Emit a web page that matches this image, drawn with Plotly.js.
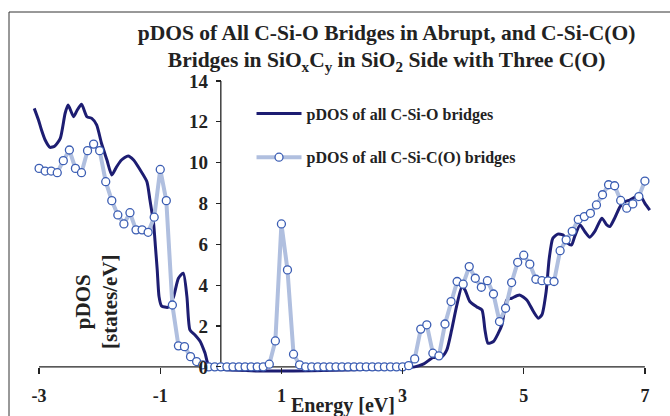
<!DOCTYPE html>
<html>
<head>
<meta charset="utf-8">
<script src="https://cdn.plot.ly/plotly-3.0.1.min.js"></script>
<style>html,body{margin:0;padding:0;background:#fff;}#chart{width:670px;height:416px;}</style>
</head>
<body>
<div id="chart"></div>
<script>
// C-Si-O bridges (dark smooth line)
const darkE = [-3.08,-3.01,-2.96,-2.90,-2.82,-2.74,-2.65,-2.57,-2.52,-2.43,-2.37,-2.30,-2.21,-2.13,-2.05,-1.97,-1.88,-1.80,-1.72,-1.64,-1.53,-1.44,-1.33,-1.22,-1.17,-1.11,-1.08,-1.05,-1.02,-0.98,-0.87,-0.78,-0.70,-0.62,-0.56,-0.51,-0.43,-0.34,-0.26,-0.18,3.20,3.35,3.50,3.65,3.73,3.81,3.89,3.98,4.03,4.11,4.22,4.31,4.36,4.41,4.50,4.58,4.64,4.72,4.80,4.93,5.05,5.16,5.24,5.30,5.37,5.42,5.48,5.56,5.65,5.73,5.79,5.84,5.93,6.01,6.09,6.17,6.29,6.37,6.42,6.50,6.59,6.67,6.75,6.86,6.95,7.00,7.08];
const darkV = [12.66,12.09,11.60,11.11,10.75,10.82,11.19,12.42,12.82,12.25,12.58,12.86,12.25,12.17,11.85,10.95,10.13,9.40,9.80,10.13,10.33,10.13,9.64,9.07,8.17,7.03,5.90,4.75,3.44,2.99,2.92,3.44,4.34,4.59,3.44,1.81,1.57,1.24,0.67,0.0,0.0,0.15,0.45,0.50,0.83,1.81,2.95,3.93,3.77,3.20,2.95,2.79,1.81,1.16,1.24,1.65,2.06,3.28,3.36,3.52,3.28,2.71,2.38,2.55,3.69,5.30,6.30,6.50,6.46,6.05,5.97,6.38,6.95,6.62,6.35,6.62,7.28,6.95,6.87,7.28,7.85,8.09,8.17,8.34,8.26,8.01,7.68];

// C-Si-C(O) bridges (light line with circle markers)
const lightE = [-3.0,-2.9,-2.8,-2.7,-2.6,-2.5,-2.4,-2.3,-2.2,-2.1,-2.0,-1.9,-1.8,-1.7,-1.6,-1.5,-1.4,-1.3,-1.2,-1.1,-1.0,-0.9,-0.8,-0.7,-0.6,-0.5,-0.4,-0.3,-0.2,-0.1,0.0,0.1,0.2,0.3,0.4,0.5,0.6,0.7,0.8,0.9,1.0,1.1,1.2,1.3,1.4,1.5,1.6,1.7,1.8,1.9,2.0,2.1,2.2,2.3,2.4,2.5,2.6,2.7,2.8,2.9,3.0,3.1,3.2,3.3,3.4,3.5,3.6,3.7,3.8,3.9,4.0,4.1,4.2,4.3,4.4,4.5,4.6,4.7,4.8,4.9,5.0,5.1,5.2,5.3,5.4,5.5,5.6,5.7,5.8,5.9,6.0,6.1,6.2,6.3,6.4,6.5,6.6,6.7,6.8,6.9,7.0];
const lightV = [9.72,9.59,9.59,9.51,10.10,10.62,9.72,9.51,10.59,10.91,10.59,9.07,8.14,7.44,7.00,7.55,6.71,6.71,6.59,7.33,9.67,8.14,3.03,1.03,0.99,0.50,0.26,0.10,0,0,0,0,0,0,0,0,0,0,0.13,1.27,7.00,4.75,0.62,0.10,0,0,0,0,0,0,0,0,0,0,0,0,0,0,0,0,0,0.06,0.39,1.85,2.06,0.67,0.54,2.10,3.20,4.18,4.05,4.91,4.34,3.90,4.22,3.57,2.22,2.87,4.13,5.12,5.47,5.03,4.29,4.22,4.21,4.18,5.69,6.22,6.64,7.22,7.36,7.52,7.93,8.43,8.92,8.87,8.15,7.77,7.98,8.34,9.10];

const xTicks = [-3,-1,1,3,5,7];
const yTicks = [0,2,4,6,8,10,12,14];
const seriesNames = ['pDOS of all C-Si-O bridges','pDOS of all C-Si-C(O) bridges'];
const titleText = 'pDOS of All C-Si-O Bridges in Abrupt, and C-Si-C(O)<br>Bridges in SiO<sub>x</sub>C<sub>y</sub> in SiO<sub>2</sub> Side with Three C(O)';

const FONT = '"Liberation Serif", "Times New Roman", serif';
const xr = [-3.15, 7.15], yr = [-0.3, 14];
const yAxisAt = 0;

const traces = [
  {x: darkE, y: darkV, name: seriesNames[0], type: 'scatter', mode: 'lines',
   line: {color: '#1d1d72', width: 3, shape: 'spline', smoothing: 0.6},
   legendgroup: 'a', cliponaxis: false, hoverinfo: 'x+y'},
  {x: lightE, y: lightV, name: seriesNames[1], type: 'scatter', mode: 'lines+markers',
   line: {color: '#b0bfdf', width: 4},
   marker: {symbol: 'circle', size: 8, color: '#ffffff', line: {color: '#3b5db3', width: 1.3}},
   legendgroup: 'b', cliponaxis: false, hoverinfo: 'x+y'}
];

const layout = {
  width: 670, height: 416,
  margin: {l: 30, r: 16, t: 81, b: 43},
  paper_bgcolor: '#fff', plot_bgcolor: 'rgba(0,0,0,0)',
  title: {text: titleText, font: {family: FONT, size: 21.5, color: '#222', weight: 'bold'},
          xref: 'container', x: 0.577, xanchor: 'center', yref: 'container', y: 0.905, yanchor: 'top'},
  xaxis: {range: xr, anchor: 'free', position: (0 - yr[0]) / (yr[1] - yr[0]),
          tickmode: 'array', tickvals: xTicks, ticktext: xTicks.map(String),
          ticks: 'outside', ticklen: 6, tickwidth: 1.2, tickcolor: '#222',
          showline: false, showgrid: false, zeroline: false,
          tickfont: {family: FONT, size: 18, color: '#222', weight: 'bold'},
          ticklabelstandoff: 7},
  yaxis: {range: yr, anchor: 'free', position: (yAxisAt - xr[0]) / (xr[1] - xr[0]),
          tickmode: 'array', tickvals: yTicks, ticktext: yTicks.map(String),
          ticks: 'outside', ticklen: 5, tickwidth: 1.2, tickcolor: '#222',
          showline: false, showgrid: false, zeroline: false,
          tickfont: {family: FONT, size: 19, color: '#222', weight: 'bold'},
          ticklabelstandoff: 4},
  showlegend: true,
  legend: {x: 0.355, y: 0.947, xanchor: 'left', yanchor: 'top', bgcolor: 'rgba(0,0,0,0)',
           font: {family: FONT, size: 16, color: '#222', weight: 'bold'},
           traceorder: 'grouped', tracegroupgap: 20, itemwidth: 45},
  shapes: [
    {type: 'line', xref: 'x', yref: 'y', x0: -3, x1: 7, y0: 0, y1: 0, layer: 'below', line: {color: '#222', width: 1.3}},
    {type: 'line', xref: 'x', yref: 'y', x0: yAxisAt, x1: yAxisAt, y0: 0, y1: 14, layer: 'below', line: {color: '#222', width: 1.3}},
    {type: 'rect', xref: 'paper', yref: 'paper', x0: (9 - 30) / 624, x1: (700 - 30) / 624,
     y0: (373 - 440) / 292, y1: (373 - 12) / 292, layer: 'below', line: {color: '#333', width: 1}}
  ],
  annotations: [
    {text: 'pDOS<br>[states/eV]', textangle: -90, xref: 'paper', yref: 'paper',
     x: (96 - 30) / 624, y: (373 - 302) / 292, xanchor: 'center', yanchor: 'middle', showarrow: false,
     font: {family: FONT, size: 21, color: '#222', weight: 'bold'}},
    {text: 'Energy [eV]', xref: 'paper', yref: 'paper',
     x: (343 - 30) / 624, y: (373 - 405) / 292, xanchor: 'center', yanchor: 'middle', showarrow: false,
     font: {family: FONT, size: 20, color: '#222', weight: 'bold'}}
  ]
};

Plotly.newPlot('chart', traces, layout, {displayModeBar: false, staticPlot: true});
</script>
</body>
</html>
